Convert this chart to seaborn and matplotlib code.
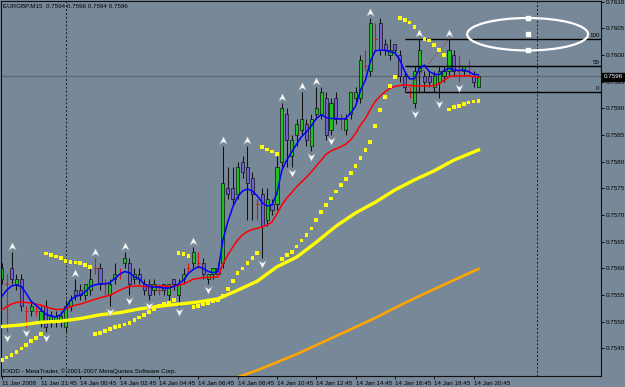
import numpy as np
import matplotlib
matplotlib.use("Agg")
import matplotlib.pyplot as plt
import seaborn as sns
from matplotlib.patches import Ellipse, Rectangle
from matplotlib.path import Path
from matplotlib.transforms import offset_copy

# ---------------- data (EURGBP M15) ----------------
tick_labels = ["11 Jan 2008", "11 Jan 21:45", "14 Jan 00:45", "14 Jan 02:45", "14 Jan 04:45",
               "14 Jan 06:45", "14 Jan 08:45", "14 Jan 10:45", "14 Jan 12:45", "14 Jan 14:45",
               "14 Jan 16:45", "14 Jan 18:45", "14 Jan 20:45"]
tick_bars = [0, 8, 16, 24, 32, 40, 48, 56, 64, 72, 80, 88, 96]
separator_bars = [13, 109]

opens = [.7558, .7557, .7560, .7557, .7558, .7552, .7552, .7552, .7550, .7553,
         .7550, .7550, .7550, .7549, .7553, .7556, .7556, .7555, .7556, .7560,
         .7560, .7557, .7555, .7558, .7559, .7561, .7561, .7558, .7559, .7557,
         .7557, .7556, .7556, .7557, .7555, .7558, .7555, .7558, .7560, .7561,
         .7561, .7561, .7558, .7559, .7560, .7561, .7575, .7575, .7574, .7580,
         .7579, .7577, .7572, .7574, .7569, .7572, .7572, .7580, .7589, .7581,
         .7585, .7586, .7587, .7583, .7589, .7589, .7592, .7586, .7592, .7588,
         .7586, .7589, .7592, .7592, .7598, .7597, .7603, .7606, .7602, .7600,
         .7602, .7600, .7596, .7593, .7591, .7597, .7596, .7596, .7594, .7595,
         .7596, .7597, .7600, .7597, .7597, .7597, .7596, .7594]
highs = [.7561, .7559, .7563, .7559, .7559, .7553, .7554, .7553, .7553, .7554,
         .7552, .7552, .7552, .7554, .7555, .7558, .7557, .7557, .7560, .7562,
         .7561, .7558, .7558, .7561, .7560, .7563, .7562, .7560, .7560, .7558,
         .7558, .7558, .7557, .7557, .7557, .7558, .7558, .7560, .7561, .7564,
         .7563, .7562, .7559, .7560, .7561, .7583, .7579, .7579, .7580, .7581,
         .7583, .7578, .7573, .7575, .7575, .7573, .7581, .7591, .7590, .7585,
         .7588, .7593, .7588, .7589, .7594, .7594, .7593, .7592, .7593, .7589,
         .7589, .7593, .7594, .7600, .7601, .7607, .7606, .7607, .7603, .7603,
         .7602, .7601, .7597, .7594, .7598, .7603, .7597, .7597, .7597, .7598,
         .7598, .7603, .7601, .7600, .7598, .7599, .7597, .7596]
lows = [.7557, .7548, .7557, .7556, .7552, .7549, .7551, .7551, .7549, .7548,
        .7549, .7549, .7549, .7548, .7552, .7554, .7554, .7554, .7555, .7559,
        .7556, .7555, .7553, .7557, .7558, .7560, .7555, .7557, .7557, .7555,
        .7554, .7555, .7555, .7555, .7554, .7556, .7553, .7557, .7559, .7560,
        .7560, .7558, .7557, .7558, .7559, .7560, .7573, .7572, .7573, .7577,
        .7569, .7569, .7569, .7562, .7568, .7570, .7571, .7579, .7579, .7579,
        .7583, .7585, .7583, .7582, .7588, .7588, .7584, .7585, .7587, .7586,
        .7585, .7588, .7591, .7591, .7597, .7596, .7601, .7600, .7600, .7599,
        .7600, .7595, .7593, .7592, .7590, .7593, .7593, .7594, .7593, .7592,
        .7595, .7596, .7596, .7595, .7596, .7596, .7594, .7594]
closes = [.7560, .7557, .7558, .7558, .7553, .7552, .7553, .7552, .7552, .7549,
          .7551, .7551, .7551, .7553, .7554, .7555, .7555, .7557, .7558, .7560,
          .7557, .7557, .7557, .7559, .7559, .7562, .7557, .7559, .7558, .7556,
          .7555, .7557, .7556, .7556, .7557, .7557, .7557, .7559, .7560, .7563,
          .7561, .7559, .7559, .7560, .7559, .7576, .7574, .7573, .7579, .7578,
          .7576, .7574, .7572, .7568, .7573, .7571, .7579, .7590, .7584, .7584,
          .7587, .7588, .7584, .7588, .7590, .7593, .7585, .7591, .7588, .7588,
          .7588, .7593, .7593, .7599, .7598, .7606, .7603, .7601, .7601, .7601,
          .7601, .7596, .7594, .7593, .7597, .7601, .7595, .7595, .7596, .7597,
          .7597, .7601, .7597, .7597, .7598, .7597, .7595, .7596]

ma_fast = [.75547, .75559, .75567, .75569, .75566, .75553, .75538, .75531, .75522, .75514,
           .75511, .75509, .75513, .75525, .75541, .75547, .75550, .75556, .75566, .75569,
           .75571, .75571, .75573, .75581, .75589, .75594, .75592, .75584, .75580, .75571,
           .75566, .75565, .75565, .75563, .75563, .75566, .75571, .75578, .75591, .75598,
           .75603, .75600, .75594, .75592, .75594, .75653, .75687, .75715, .75734, .75745,
           .75749, .75745, .75736, .75723, .75717, .75719, .75741, .75784, .75803, .75818,
           .75833, .75847, .75856, .75867, .75881, .75888, .75883, .75881, .75881, .75880,
           .75881, .75891, .75904, .75934, .75953, .75988, .76008, .76009, .76009, .76006,
           .76004, .75991, .75969, .75955, .75956, .75975, .75981, .75969, .75964, .75963,
           .75971, .75975, .75972, .75971, .75972, .75969, .75964, .75963]
ma_mid = [.75522, .75528, .75533, .75536, .75537, .75536, .75535, .75533, .75531, .75528,
          .75525, .75523, .75523, .75524, .75528, .75531, .75533, .75536, .75539, .75542,
          .75545, .75547, .75550, .75554, .75559, .75563, .75566, .75567, .75567, .75566,
          .75566, .75566, .75567, .75567, .75566, .75567, .75568, .75571, .75575, .75580,
          .75581, .75583, .75583, .75583, .75584, .75608, .75625, .75640, .75653, .75663,
          .75669, .75673, .75675, .75678, .75681, .75687, .75702, .75719, .75732, .75742,
          .75753, .75762, .75771, .75781, .75792, .75803, .75814, .75820, .75824, .75828,
          .75833, .75841, .75853, .75869, .75881, .75898, .75913, .75923, .75931, .75938,
          .75941, .75943, .75944, .75943, .75942, .75942, .75942, .75942, .75943, .75946,
          .75953, .75959, .75961, .75961, .75961, .75961, .75960, .75958]
slow_bars = [0, 4, 8, 12, 16, 20, 24, 28, 32, 36, 40, 44, 48, 52, 56, 60, 64, 68, 72, 76, 80, 84, 88, 92, 97]
ma_slow = [.75491, .75494, .75499, .75501, .75506, .75513, .75517, .75524, .75529, .75533,
           .75537, .75543, .75559, .75576, .75603, .75621, .75649, .75679, .75704, .75724,
           .75747, .75766, .75783, .75803, .75822]
long_bars = [48, 52, 56, 60, 64, 68, 72, 76, 80, 84, 88, 92, 97]
ma_long = [.75396, .75409, .75424, .75439, .75456, .75473, .75490, .75507, .75526, .75544,
           .75561, .75578, .75599]
psar = [.75428, .75433, .75438, .75443, .75450, .75456, .75464, .75470, .75477,
        .75628, .75625, .75622, .75619, .75614, .75612, .75611, .75610, .75606, .75603,
        .75477, .75479, .75483, .75486, .75490, .75492, .75495, .75498, .75503, .75508,
        .75513, .75518, .75523, .75529, .75533, .75536, .75541,
        .75629, .75627, .75623,
        .75527, .75529, .75532, .75535, .75538, .75541, .75548, .75561, .75576, .75591,
        .75600, .75610, .75619, .75629,
        .75828, .75823, .75819, .75814,
        .75617, .75625, .75631, .75641, .75652, .75663, .75675, .75691, .75706, .75719,
        .75731, .75744, .75756, .75767, .75779, .75792, .75807, .75822, .75837, .75867,
        .75897, .75921, .75942, .75959,
        .76069, .76066, .76061, .76052, .76041, .76030, .76027, .76019, .76009, .76000,
        .75898, .75902, .75904, .75908, .75911, .75913, .75914]
fractal_up = [2, 15, 19, 25, 39, 45, 50, 57, 61, 64, 75, 85, 91]
fractal_dn = [1, 5, 9, 22, 26, 30, 36, 42, 53, 59, 63, 67, 84, 89, 93]
fib_levels = [.7603, .7598, .7593]
fib_labels = ["100", "50", "0"]
fib_anchor = [82, 91]
last_price = .7596
title_text = "EURGBP,M15  0.7594 0.7596 0.7594 0.7596"
footer_text = "FXDD - MetaTrader, \u00a9 2001-2007 MetaQuotes Software Corp."
y_ticks = [.7545, .7550, .7555, .7560, .7565, .7570, .7575, .7580, .7585, .7590,
           .7595, .7600, .7605, .7610]

# ---------------- drawing ----------------
BG = "#778899"
W, H = 625, 387
fig = plt.figure(figsize=(W / 100, H / 100), dpi=100, facecolor=BG)
plt.rcParams["font.family"] = ["Liberation Sans Narrow", "Liberation Sans", "DejaVu Sans"]
FS = 4.5

ax = fig.add_axes([1 / W, 11 / H, 600 / W, 375 / H])
ax.set_facecolor(BG)
ax.set_xlim(-0.14, 121.93)
ax.set_ylim(0.753982, 0.761013)
bars = np.arange(len(closes))

# period separators & current price line
for b in separator_bars:
    ax.axvline(b, color="#1a1a1a", lw=0.7, ls=(0, (2, 2)), zorder=1)
ax.axhline(last_price, color="#5a6672", lw=0.9, zorder=1)

# candles
bw = 0.64
for i in bars:
    o, h, l, c = opens[i], highs[i], lows[i], closes[i]
    if o == c:
        ax.vlines(i, l, h, color="#d01818", lw=0.8, zorder=2)
        ax.hlines(o, i - bw / 2, i + bw / 2, color="#d01818", lw=0.8, zorder=2)
        continue
    ax.vlines(i, l, h, color="#111111", lw=0.75, zorder=2)
    fc = "#1fc01f" if c > o else "#7060d0"
    ax.add_patch(Rectangle((i - bw / 2, min(o, c)), bw, abs(c - o), facecolor=fc,
                           edgecolor="#111111", lw=0.5, zorder=2.5))

# moving averages
sns.lineplot(x=long_bars, y=ma_long, color="#FFA500", lw=1.9, ax=ax, zorder=3)
sns.lineplot(x=slow_bars, y=ma_slow, color="#FFFF00", lw=2.4, ax=ax, zorder=3)
sns.lineplot(x=bars, y=ma_mid, color="#FF0000", lw=1.1, ax=ax, zorder=3.2)
sns.lineplot(x=bars, y=ma_fast, color="#0000FF", lw=1.1, ax=ax, zorder=3.3)

# parabolic SAR
sns.scatterplot(x=bars, y=psar, marker="s", s=7, color="#FFFF00", edgecolor="none",
                ax=ax, zorder=4)

# fractals
up_path = Path([(-1, -1), (0, 1), (1, -1), (0, -0.35), (-1, -1)],
               [Path.MOVETO, Path.LINETO, Path.LINETO, Path.LINETO, Path.CLOSEPOLY])
dn_path = Path([(-1, 1), (0, -1), (1, 1), (0, 0.35), (-1, 1)],
               [Path.MOVETO, Path.LINETO, Path.LINETO, Path.LINETO, Path.CLOSEPOLY])
tr_up = offset_copy(ax.transData, fig=fig, x=0, y=6, units="dots")
tr_dn = offset_copy(ax.transData, fig=fig, x=0, y=-6, units="dots")
ax.scatter(fractal_up, [highs[i] for i in fractal_up], marker=up_path, s=32,
           facecolor="white", edgecolor="#9aa2aa", lw=0.4, transform=tr_up, zorder=5)
ax.scatter(fractal_dn, [lows[i] for i in fractal_dn], marker=dn_path, s=32,
           facecolor="white", edgecolor="#9aa2aa", lw=0.4, transform=tr_dn, zorder=5)

# fibonacci retracement
xr = ax.get_xlim()[1]
for lv, lab in zip(fib_levels, fib_labels):
    ax.hlines(lv, fib_anchor[0], xr, color="black", lw=1.0, zorder=3)
    ax.text(xr - 0.3, lv + 0.00002, lab, fontsize=FS, ha="right", va="bottom",
            color="black", zorder=6)
ax.plot(fib_anchor, [fib_levels[2], fib_levels[0]], color="#b03030", lw=0.9,
        ls=(0, (1, 1.5)), zorder=3)

# ellipse object
ell_c = (107, 0.76039)
ax.add_patch(Ellipse(ell_c, width=24.6, height=0.000608, fill=False, ec="white",
                     lw=1.6, zorder=6))
ax.scatter([107, 107, 107], [ell_c[1] + 0.000304, ell_c[1], ell_c[1] - 0.000304],
           marker="s", s=9, color="white", zorder=7)

# axes styling
for sp in ax.spines.values():
    sp.set_color("#111111")
    sp.set_linewidth(0.8)
ax.yaxis.tick_right()
ax.set_yticks(y_ticks)
ax.set_yticklabels([f"{v:.4f}" for v in y_ticks], fontsize=FS, color="black")
ax.set_xticks(tick_bars)
ax.set_xticklabels(tick_labels, fontsize=FS, color="black", ha="left")
ax.tick_params(axis="y", direction="out", length=2.2, width=0.6, pad=1, colors="black")
ax.tick_params(axis="x", direction="out", length=2.2, width=0.6, pad=1.2, colors="black")
for lab in ax.get_xticklabels():
    lab.set_horizontalalignment("left")
ax.set_xlabel("")
ax.set_ylabel("")

# texts
fig.text(3 / W, 1 - 6 / H, title_text, fontsize=FS, color="black", va="center", ha="left")
fig.text(3 / W, 1 - 371.5 / H, footer_text, fontsize=FS, color="black", va="center", ha="left")
fig.text(604 / W, 1 - 77 / H, f"{last_price:.4f}", fontsize=FS, color="white",
         va="center", ha="left", zorder=10,
         bbox=dict(facecolor="black", edgecolor="black", boxstyle="square,pad=0.25"))

fig.savefig("out.png", dpi=100, facecolor=BG)
